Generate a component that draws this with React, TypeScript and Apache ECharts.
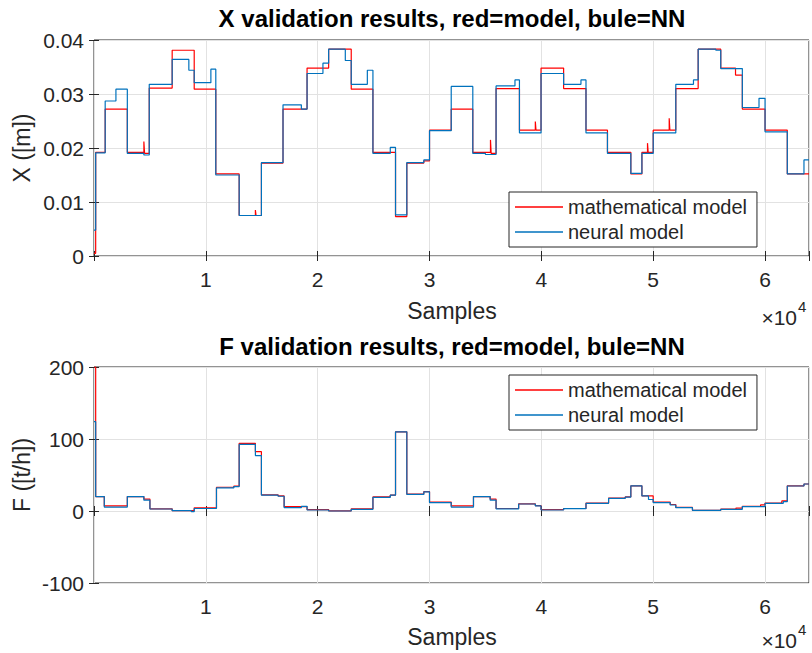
import React, { useEffect, useRef } from "react";
import * as echarts from "echarts";

// ---------- data ----------
const X_MAX = 63930;
const xTicks = [1, 2, 3, 4, 5, 6]; // ×10^4

// X plot: neural model (blue)
const xNeuralAt = [0, 150, 1000, 1960, 2980, 4460, 4940, 6990, 8480, 8960, 10450, 10890, 12980, 14970, 16900, 18540, 19050, 20470, 20980, 22470, 23000, 24440, 24940, 26490, 26960, 27970, 29490, 30000, 31940, 33870, 35000, 35950, 37640, 38040, 39970, 41990, 43540, 43990, 45910, 48000, 48990, 50000, 52020, 53600, 54020, 55600, 56040, 57970, 59460, 60000, 61990, 63480];
const xNeuralVal = [0.0048, 0.0191, 0.0287, 0.0309, 0.019, 0.0187, 0.0318, 0.0364, 0.0344, 0.0321, 0.0346, 0.015, 0.0075, 0.0173, 0.028, 0.0272, 0.0338, 0.0357, 0.0383, 0.0362, 0.0318, 0.0344, 0.019, 0.0201, 0.0076, 0.0173, 0.0178, 0.0232, 0.0314, 0.019, 0.0188, 0.0315, 0.0326, 0.0228, 0.0338, 0.0318, 0.0326, 0.0228, 0.019, 0.0153, 0.019, 0.0228, 0.0318, 0.0326, 0.0383, 0.0381, 0.0347, 0.0275, 0.0292, 0.023, 0.0152, 0.0178];

// X plot: mathematical model (red)
const xMathAt = [0, 150, 1000, 2980, 4460, 4520, 4940, 6990, 8960, 10890, 12980, 14430, 14490, 14970, 16900, 19050, 20980, 23000, 24940, 26960, 27970, 29490, 30000, 31940, 33870, 35450, 35510, 35950, 38040, 39460, 39520, 39970, 41990, 43990, 45910, 48000, 48990, 49490, 49550, 50000, 51430, 51490, 52020, 54020, 56040, 57360, 57970, 60000, 61990];
const xMathVal = [0.0005, 0.0192, 0.0272, 0.0192, 0.0212, 0.019, 0.0311, 0.0381, 0.0309, 0.0152, 0.0075, 0.0085, 0.0075, 0.0172, 0.0272, 0.0348, 0.0383, 0.0309, 0.0192, 0.0073, 0.0172, 0.0176, 0.0233, 0.0272, 0.0192, 0.0215, 0.019, 0.031, 0.0233, 0.0249, 0.0233, 0.0348, 0.031, 0.0233, 0.0192, 0.0152, 0.0192, 0.0209, 0.0192, 0.0233, 0.0255, 0.0233, 0.031, 0.0383, 0.0348, 0.0335, 0.0272, 0.0233, 0.0152];

// F plot: neural model (blue)
const fNeuralAt = [0, 150, 920, 2980, 4460, 5000, 6990, 8700, 8960, 10950, 12500, 12980, 14430, 14970, 16460, 17000, 18540, 19050, 20980, 23000, 24940, 26490, 26960, 27970, 29490, 30000, 31940, 33930, 35420, 35950, 37970, 39460, 39970, 41990, 43990, 46010, 47500, 48000, 48990, 49580, 50000, 51520, 52020, 53510, 56040, 57970, 60000, 61630, 61990, 63480];
const fNeuralVal = [124, 20, 5.5, 20, 15, 2.8, 0.5, -1, 3.5, 32, 33.9, 92.5, 77, 22, 20.5, 4.6, 6.5, 1.4, 0, 2.3, 19, 22, 110, 23, 26.5, 11.5, 5.5, 20, 15, 3, 9.7, 7, 1.4, 3.2, 10.6, 17.6, 19.4, 35, 21, 16, 11.6, 8.3, 4.6, 0.9, 2.3, 6.2, 10.6, 13, 34.7, 37.5];

// F plot: mathematical model (red)
const fMathAt = [0, 150, 920, 2980, 4460, 5000, 6990, 8960, 10950, 12500, 12980, 14430, 14970, 16460, 17000, 19050, 20980, 23000, 24940, 26490, 26960, 27970, 29490, 30000, 31940, 33930, 35420, 35950, 37970, 39460, 39970, 41990, 43990, 46010, 47500, 48000, 48990, 50000, 51520, 52020, 53510, 56040, 57400, 57970, 59600, 60000, 61500, 61990, 63480];
const fMathVal = [200, 20, 7, 20, 16.5, 3, 0.5, 4.5, 33, 34.5, 94, 82.4, 22.5, 21, 6, 2, 0.3, 3, 19.5, 22, 110, 23.5, 27, 12.5, 7, 20, 16.5, 3.5, 10, 7.5, 2, 3.5, 11, 18, 19.5, 35, 21, 12.5, 9, 5, 1, 2.5, 4, 6.5, 8.5, 11, 14, 35, 37.5];

const xTitle = "X validation results, red=model, bule=NN";
const fTitle = "F validation results, red=model, bule=NN";
const xYName = "X ([m])";
const fYName = "F ([t/h])";
const xName = "Samples";
const seriesNames = ["mathematical model", "neural model"];

// ---------- helpers ----------
function toPairs(at: number[], val: number[]): number[][] {
  const p = at.map((a, i) => [a, val[i]]);
  p.push([X_MAX, val[val.length - 1]]);
  return p;
}

const FONT = "'Liberation Sans', Arial, Helvetica, sans-serif";
const INK = "#262626";
const GRIDC = "#e2e2e2";
const RED = "#FF0000";
const BLUE = "#0072BD";

export default function App() {
  const ref = useRef<HTMLDivElement>(null);
  useEffect(() => {
    if (!ref.current) return;
    const chart = echarts.init(ref.current, undefined, { renderer: "svg" });

    const grids = [
      { left: 94, top: 40, width: 716, height: 216 },
      { left: 94, top: 367, width: 716, height: 216 },
    ].map((g) => ({ ...g, show: true, borderColor: INK, borderWidth: 1, backgroundColor: "#fff" }));

    const xLabelFmt = (v: number) => {
      if (v === 0 || v % 10000 !== 0) return "";
      const k = v / 10000;
      return xTicks.includes(k) ? String(k) : "";
    };

    const xAxes: any[] = [];
    const yAxes: any[] = [];
    [0, 1].forEach((gi) => {
      xAxes.push({
        type: "value", gridIndex: gi, min: 0, max: X_MAX, interval: 10000, position: "bottom",
        axisLine: { show: false },
        axisTick: { show: true, inside: true, length: 5, lineStyle: { color: INK } },
        axisLabel: { show: true, formatter: xLabelFmt, margin: 13, fontSize: 21, color: INK, fontFamily: FONT },
        splitLine: { show: true, lineStyle: { color: GRIDC, width: 1 } },
      });
      xAxes.push({
        type: "value", gridIndex: gi, min: 0, max: X_MAX, interval: 10000, position: "top",
        axisLine: { show: false },
        axisTick: { show: true, inside: true, length: 5, lineStyle: { color: INK } },
        axisLabel: { show: false },
        splitLine: { show: false },
      });
    });
    const yCfg = [
      { min: 0, max: 0.04, interval: 0.01, fmt: (v: number) => (Math.abs(v) < 1e-12 ? "0" : v.toFixed(2)) },
      { min: -100, max: 200, interval: 100, fmt: (v: number) => String(Math.round(v)) },
    ];
    [0, 1].forEach((gi) => {
      const c = yCfg[gi];
      yAxes.push({
        type: "value", gridIndex: gi, min: c.min, max: c.max, interval: c.interval, position: "left",
        axisLine: { show: false },
        axisTick: { show: true, inside: true, length: 5, lineStyle: { color: INK } },
        axisLabel: { show: true, formatter: c.fmt, margin: 10, fontSize: 21, color: INK, fontFamily: FONT },
        splitLine: { show: true, lineStyle: { color: GRIDC, width: 1 } },
      });
      yAxes.push({
        type: "value", gridIndex: gi, min: c.min, max: c.max, interval: c.interval, position: "right",
        axisLine: { show: false },
        axisTick: { show: true, inside: true, length: 5, lineStyle: { color: INK } },
        axisLabel: { show: false },
        splitLine: { show: false },
      });
    });

    const mkSeries = (name: string, data: number[][], color: string, xi: number, yi: number) => ({
      type: "line", name, data, step: "end", showSymbol: false, symbol: "none",
      xAxisIndex: xi, yAxisIndex: yi, clip: true,
      lineStyle: { color, width: 1.2 }, itemStyle: { color },
      emphasis: { disabled: true },
    });

    const series = [
      mkSeries(seriesNames[0], toPairs(xMathAt, xMathVal), RED, 0, 0),
      mkSeries(seriesNames[1], toPairs(xNeuralAt, xNeuralVal), BLUE, 0, 0),
      mkSeries(seriesNames[0], toPairs(fMathAt, fMathVal), RED, 2, 2),
      mkSeries(seriesNames[1], toPairs(fNeuralAt, fNeuralVal), BLUE, 2, 2),
    ];

    const legendBase = {
      orient: "vertical", left: 509, data: seriesNames, icon: "rect",
      itemWidth: 48, itemHeight: 1.5, itemGap: 5, padding: [5, 10, 5, 6],
      borderColor: INK, borderWidth: 1, backgroundColor: "#fff",
      selectedMode: false,
      textStyle: { fontSize: 20, color: INK, fontFamily: FONT },
    };

    const txt = (text: string, x: number, y: number, size: number, extra: any = {}) => ({
      type: "text", x, y, silent: true,
      style: { text, fontSize: size, fontFamily: FONT, fill: INK, align: "center", verticalAlign: "middle", ...extra },
    });

    const graphic: any[] = [
      txt(xTitle, 452, 18, 24, { fontWeight: "bold", fill: "#000" }),
      txt(fTitle, 452, 346, 24, { fontWeight: "bold", fill: "#000" }),
      txt(xName, 452, 311, 23),
      txt(xName, 452, 637, 23),
      { ...txt(xYName, 22, 148, 23), rotation: Math.PI / 2 },
      { ...txt(fYName, 22, 475, 23), rotation: Math.PI / 2 },
      txt("\u00d710", 797, 317, 21, { align: "right" }),
      txt("4", 798, 306, 15, { align: "left" }),
      txt("\u00d710", 797, 640, 21, { align: "right" }),
      txt("4", 798, 629, 15, { align: "left" }),
    ];

    chart.setOption({
      animation: false,
      backgroundColor: "#fff",
      grid: grids,
      xAxis: xAxes,
      yAxis: yAxes,
      series,
      legend: [
        { ...legendBase, top: 192 },
        { ...legendBase, top: 375 },
      ],
      graphic,
    });
    return () => chart.dispose();
  }, []);

  return <div ref={ref} style={{ position: "absolute", left: 0, top: 0, width: 812, height: 653 }} />;
}
